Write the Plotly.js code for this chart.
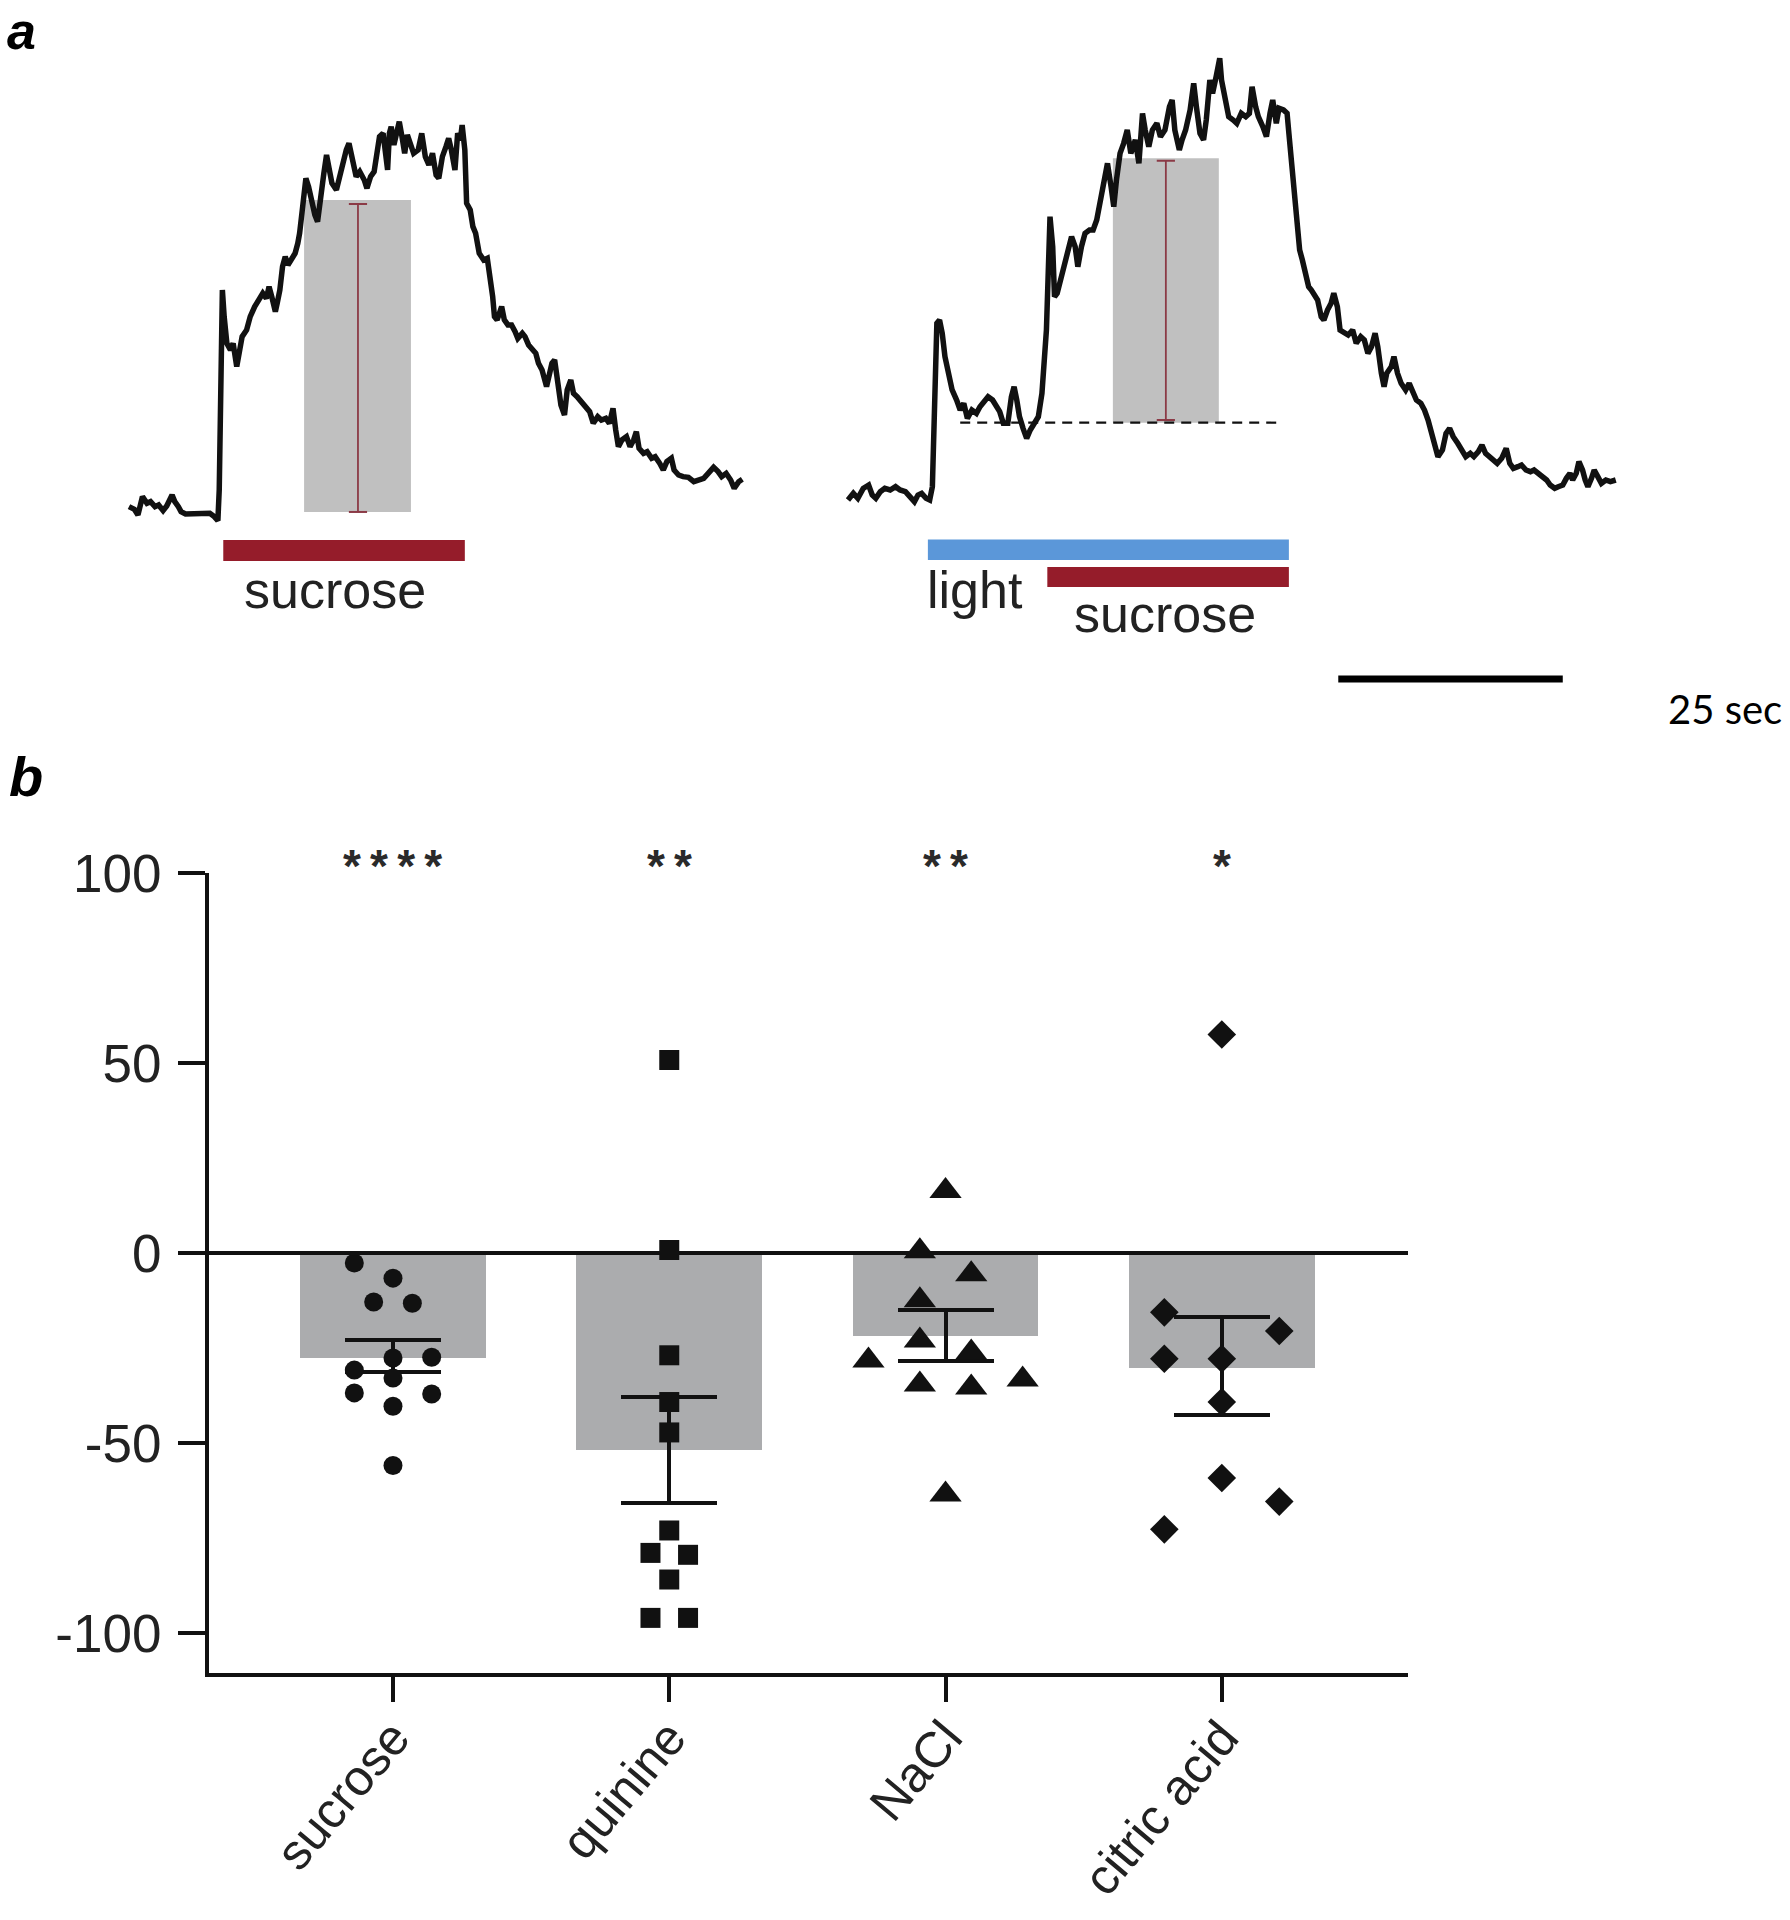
<!DOCTYPE html>
<html><head><meta charset="utf-8">
<script src="https://cdn.plot.ly/plotly-3.0.1.min.js"></script>
<style>html,body{margin:0;padding:0;background:#fff;}#chart{width:1790px;height:1920px;}</style>
</head><body><div id="chart"></div>
<script>
// ================= DATA =================
// Panel a, left: calcium trace, sucrose alone (time in s, signal in % dF/F)
const leftTime = [
 1.0,1.6,2.0,2.5,3.0,3.4,3.9,4.3,4.8,5.2,
 5.8,6.1,6.5,6.8,7.3,8.0,8.6,9.3,10.0,10.5,
 10.9,11.05,11.2,11.4,11.6,11.9,12.3,12.6,13.0,13.3,
 13.6,14.1,14.5,15.0,15.5,15.9,16.3,16.6,16.9,17.3,
 17.5,17.8,18.1,18.4,18.7,19.1,19.5,19.8,20.0,20.3,
 20.7,21.0,21.4,21.7,22.0,22.4,22.7,23.0,23.3,23.6,
 24.1,24.5,24.9,25.2,25.5,25.9,26.3,26.7,27.2,27.5,
 27.9,28.3,28.6,28.9,29.3,29.5,29.8,30.0,30.2,30.5,
 30.8,31.1,31.4,31.7,32.0,32.4,32.7,33.2,33.6,34.0,
 34.4,34.8,35.2,35.5,35.9,36.3,36.6,36.9,37.3,37.6,
 37.9,38.1,38.4,38.6,39.0,39.3,39.6,40.0,40.5,40.9,
 41.2,41.5,41.7,42.0,42.5,42.8,43.2,43.6,44.0,44.3,
 44.8,45.1,45.5,45.9,46.3,46.6,47.0,47.5,47.8,48.1,
 48.4,48.7,49.1,49.5,49.8,50.2,50.5,50.9,51.4,51.8,
 52.3,52.7,53.2,53.6,54.1,54.5,54.9,55.2,55.5,55.9,
 56.4,56.8,57.2,57.5,57.8,58.3,58.7,59.2,59.6,60.1,
 60.5,60.9,61.4,61.7,62.2,62.7,63.3,63.9,64.5,65.0,
 65.5,66.1,66.6,67.0,67.5,68.0,68.4,68.9,69.3];
const leftSignal = [
 2.0,1.2,-0.5,5.0,3.0,3.5,2.0,2.5,0.8,2.2,
 5.5,3.5,2.0,0.5,-0.2,-0.2,0,-0.2,0,-1.0,
 -2.2,7.0,37.0,67.0,59.0,51.0,49.0,51.0,44.0,48.0,
 53.0,55.0,59.0,62.0,64.0,66.0,64.5,68.0,65.0,60.5,
 63.0,67.0,74.0,77.0,74.5,76.0,78.0,81.0,84.0,91.0,
 100.5,98.0,92.5,89.5,87.5,98.0,102.0,107.5,103.0,99.0,
 97.0,102.0,107.0,109.0,111.0,106.0,101.0,102.5,100.0,97.5,
 101.0,102.5,107.0,113.0,114.0,108.0,103.0,114.0,116.0,110.5,
 114.0,117.5,113.0,108.0,113.5,110.0,108.0,109.0,114.0,107.0,
 104.5,108.0,101.5,100.5,107.0,110.0,112.5,109.0,103.0,114.0,
 112.0,116.5,109.0,93.0,91.0,86.0,84.0,78.0,76.0,76.5,
 71.0,65.0,59.0,58.0,62.0,58.0,56.5,56.5,54.5,52.5,
 54.0,53.0,50.5,49.0,48.0,45.0,43.0,38.0,42.0,45.0,
 46.0,39.0,32.5,29.5,37.0,40.0,36.0,35.0,33.5,32.5,
 30.5,27.0,29.0,28.0,28.5,27.0,31.5,25.0,20.0,22.0,
 23.0,20.0,22.0,24.5,19.5,18.0,18.5,16.5,17.0,15.0,
 13.0,15.5,16.5,13.0,11.5,11.0,10.8,9.5,10.2,10.5,
 12.0,13.8,12.5,11.0,12.0,10.0,7.5,9.5,10.2];

// Panel a, right: calcium trace, light then light + sucrose
const rightTime = [
 2.0,2.6,3.1,3.7,4.3,4.7,5.1,5.6,6.1,6.7,
 7.3,7.8,8.4,9.0,9.4,9.8,10.2,10.7,11.1,11.4,
 11.5,11.7,11.9,12.2,12.5,12.8,13.2,13.6,14.1,14.5,
 14.9,15.3,15.8,16.3,16.7,17.2,17.6,18.1,18.5,18.9,
 19.3,19.8,20.2,20.5,20.8,21.1,21.5,21.9,22.3,22.7,
 23.2,23.6,23.9,24.1,24.3,24.5,24.8,25.0,25.3,25.7,
 26.1,26.5,26.9,27.3,27.6,28.0,28.4,28.9,29.3,29.7,
 30.1,30.5,30.9,31.3,31.6,31.9,32.3,32.7,33.1,33.5,
 34.0,34.4,34.8,35.1,35.5,35.9,36.4,36.8,37.3,37.8,
 38.1,38.4,38.9,39.2,39.6,40.1,40.5,40.8,41.2,41.6,
 41.9,42.3,42.6,43.0,43.4,43.6,44.0,44.4,44.9,45.3,
 45.8,46.3,46.7,47.0,47.4,47.7,48.2,48.6,49.0,49.3,
 49.7,50.0,50.5,50.9,51.1,51.4,51.7,52.0,52.3,52.6,
 53.0,53.3,53.6,54.0,54.3,54.7,55.0,55.4,55.8,56.1,
 56.5,56.8,57.3,57.7,58.2,58.6,59.1,59.5,59.9,60.3,
 60.7,61.0,61.4,61.7,62.0,62.5,62.8,63.2,63.6,64.1,
 64.5,64.9,65.3,65.8,66.2,66.6,66.9,67.3,67.7,68.2,
 68.6,69.0,69.4,69.9,70.3,70.8,71.3,71.7,72.2,72.6,
 73.0,73.4,73.9,74.3,74.8,75.3,75.7,76.1,76.6,77.0,
 77.5,78.0,78.4,78.9,79.3,79.8,80.2,80.7,81.1,81.6,
 82.0,82.4,82.7,83.1,83.4,83.8,84.1,84.4,84.8,85.1,
 85.5,85.9,86.4,86.9,87.5];
const rightSignal = [
 0,2,0.5,3.5,4.5,1.5,0.5,2.5,3.5,3.0,
 4.0,3.0,2.5,0.5,-0.5,1.5,2.0,0.5,0,4.0,
 18,38,53,54,50,43,37,33,30,27,
 29,24.5,27,26,28,29.5,31,30,28,26.5,
 23,23,31,34,30,25,21.5,18.5,21,23,
 25,32,41,51,68,85,76,61,62,66,
 70,74,79,76,70,76,80,81,81,84,
 90,95,101,94,88,96,104,107,111,104,
 108,101,116,111,106,111,113,109,111,118,
 120,111,105,108,111,117,125,118,110,108,
 114,126,122,127,132.5,126,120,115,114,113,
 116,115,116,124,118,115,112,109,116,120,
 113,117.5,117,116,110,100,90,82,75,72,
 68,64,63,61,60,55,54,57,59,62,
 58,51,50,49.5,51,47,49,48,44,46,
 50,46,38,34,38,40,43,38,35,33,
 35,32,30,29,27,24,21,17,13,15,
 20,21.5,19,17,15,13,14,13,14.5,16.5,
 14,13,12,11,12.5,15.5,11,9.5,10,10.5,
 9,8.5,9,8,7,6,4.5,3.5,4,4.5,
 6.5,8,6,8,11.5,9,6,4,6.5,9,
 7,5,6,5.5,6];

// Stimulus epochs (s)
const leftSucroseOn = [11.5, 38.4];
const rightLightOn = [10.9, 51.1];
const rightSucroseOn = [24.2, 51.1];
// Response quantification (s, % dF/F)
const leftWindow = [20.5, 32.4];
const leftWindowLevels = [0.4, 94.0];
const leftAmpTime = [26.5, 26.5];
const leftAmpLevels = [0.4, 92.8];
const rightWindow = [31.5, 43.3];
const rightWindowLevels = [23.2, 102.5];
const rightAmpTime = [37.4, 37.4];
const rightAmpLevels = [24.0, 101.8];
const rightBaselineSpan = [14.5, 50.0];
const rightBaselineLevel = [23.2, 23.2];
const scaleBarSeconds = 25;

// Panel b: % change of sucrose-evoked response with light
const categories = ['sucrose', 'quinine', 'NaCl', 'citric acid'];
const meanChange = [-27.7, -51.8, -21.9, -30.2];
const semUp = [4.8, 13.9, 6.8, 13.4];
const semDown = [3.6, 14.0, 6.4, 12.3];
const sucroseVals = [-2.6, -6.6, -12.9, -13.2, -27.6, -27.4, -30.8, -32.9, -36.8, -37.1, -40.3, -55.9];
const sucroseCols = [-2, 0, -1, 1, 0, 2, -2, 0, -2, 2, 0, 0];
const quinineVals = [50.8, 0.8, -26.9, -39.2, -47.2, -73.0, -78.9, -79.4, -85.9, -96.0, -96.0];
const quinineCols = [0, 0, 0, 0, 0, 0, -1, 1, 0, -1, 1];
const naclVals = [16.3, 0.5, -5.6, -12.4, -23.0, -26.2, -28.3, -34.6, -35.4, -33.3, -63.5];
const naclCols = [0, -1, 1, -1, -1, 1, -3, -1, 1, 3, 0];
const citricVals = [57.5, -15.6, -20.5, -27.8, -27.8, -39.2, -59.2, -65.4, -72.7];
const citricCols = [0, -1, 1, -1, 0, 0, 0, 1, -1];
const significance = ['****', '**', '**', '*'];

// ================= LAYOUT / STYLE =================
const W = 1790, H = 1920;
const fx = px => px / W;
const fy = px => 1 - px / H;
const PX_S = 8.98, PX_U = 10 / 3;
const FL = {x0: 120, v0: 513.3, t: [0, 70], v: [-8, 125]};
const FR = {x0: 830, v0: 500, t: [0, 90], v: [-8, 135]};
function dom(F) {
  return {x: [fx(F.x0 + F.t[0] * PX_S), fx(F.x0 + F.t[1] * PX_S)],
          y: [fy(F.v0 - F.v[0] * PX_U), fy(F.v0 - F.v[1] * PX_U)]};
}
const dL = dom(FL), dR = dom(FR);
const SANS = 'Liberation Sans, Arial, Helvetica, sans-serif';
const INK = '#111111';
const TXT = '#222222';
const AMP = '#8b3a46';
const RED = '#951c2a';
const BLUE = '#5b97d9';
const jitterStep = [0.07, 0.068, 0.093, 0.208];

const traces = [];
traces.push({x: leftTime, y: leftSignal, xaxis: 'x2', yaxis: 'y2', type: 'scatter', mode: 'lines',
  line: {color: INK, width: 5.5}, hoverinfo: 'skip'});
traces.push({x: rightTime, y: rightSignal, xaxis: 'x3', yaxis: 'y3', type: 'scatter', mode: 'lines',
  line: {color: INK, width: 5.5}, hoverinfo: 'skip'});
traces.push({x: rightBaselineSpan, y: rightBaselineLevel, xaxis: 'x3', yaxis: 'y3', type: 'scatter', mode: 'lines',
  line: {color: INK, width: 2.2, dash: '10px,7px'}});
[[leftAmpTime, leftAmpLevels, 'x2', 'y2'], [rightAmpTime, rightAmpLevels, 'x3', 'y3']].forEach(a => {
  traces.push({x: a[0], y: a[1], xaxis: a[2], yaxis: a[3], type: 'scatter', mode: 'lines+markers',
    line: {color: AMP, width: 1.8}, marker: {symbol: 'line-ew', size: 13, line: {color: AMP, width: 2}}});
});

// Panel b
const catIdx = categories.map((c, i) => i);
traces.push({x: catIdx, y: meanChange, type: 'bar', width: 0.673, xaxis: 'x', yaxis: 'y',
  marker: {color: '#abacae', line: {width: 0}},
  error_y: {type: 'data', symmetric: false, array: semUp, arrayminus: semDown, color: INK, thickness: 4, width: 48}});
const groups = [[sucroseVals, sucroseCols, 'circle', 19], [quinineVals, quinineCols, 'square', 20],
                [naclVals, naclCols, 'triangle-up', 28], [citricVals, citricCols, 'diamond', 22]];
groups.forEach((g, i) => {
  traces.push({x: g[1].map(c => i + c * jitterStep[i]), y: g[0], type: 'scatter', mode: 'markers',
    xaxis: 'x', yaxis: 'y', marker: {symbol: g[2], size: g[3], color: INK, line: {width: 0}}, cliponaxis: false});
});

const hidden = {visible: false, fixedrange: true};
const layout = {
  width: W, height: H, margin: {l: 0, r: 0, t: 0, b: 0, pad: 0},
  paper_bgcolor: '#ffffff', plot_bgcolor: 'rgba(0,0,0,0)', showlegend: false, hovermode: false,
  bargap: 0,
  xaxis: {domain: [fx(209), fx(1408)], range: [-0.666, 3.674], anchor: 'y',
    tickmode: 'array', tickvals: catIdx, ticktext: categories, tickangle: -50,
    ticks: 'outside', ticklen: 25, tickwidth: 4, tickcolor: INK, ticklabelstandoff: -14,
    showline: true, linewidth: 4, linecolor: INK, showgrid: false, zeroline: false,
    tickfont: {family: SANS, size: 50, color: TXT}},
  yaxis: {domain: [fy(1673), fy(873)], range: [-110.5, 100], anchor: 'x',
    tickmode: 'array', tickvals: [-100, -50, 0, 50, 100], ticktext: ['-100', '-50', '0', '50', '100'],
    ticks: 'outside', ticklen: 27, tickwidth: 4, tickcolor: INK, ticklabelstandoff: 6,
    showline: true, linewidth: 4, linecolor: INK, showgrid: false, zeroline: false,
    tickfont: {family: SANS, size: 53, color: TXT}},
  xaxis2: Object.assign({domain: dL.x, range: FL.t, anchor: 'y2'}, hidden),
  yaxis2: Object.assign({domain: dL.y, range: FL.v, anchor: 'x2'}, hidden),
  xaxis3: Object.assign({domain: dR.x, range: FR.t, anchor: 'y3'}, hidden),
  yaxis3: Object.assign({domain: dR.y, range: FR.v, anchor: 'x3'}, hidden),
  shapes: [
    {type: 'rect', xref: 'x2', yref: 'y2', x0: leftWindow[0], x1: leftWindow[1], y0: leftWindowLevels[0], y1: leftWindowLevels[1],
      fillcolor: '#c0c0c0', line: {width: 0}, layer: 'below'},
    {type: 'rect', xref: 'x3', yref: 'y3', x0: rightWindow[0], x1: rightWindow[1], y0: rightWindowLevels[0], y1: rightWindowLevels[1],
      fillcolor: '#c0c0c0', line: {width: 0}, layer: 'below'},
    {type: 'rect', xref: 'x2', yref: 'paper', x0: leftSucroseOn[0], x1: leftSucroseOn[1], y0: fy(561), y1: fy(540),
      fillcolor: RED, line: {width: 0}},
    {type: 'rect', xref: 'x3', yref: 'paper', x0: rightLightOn[0], x1: rightLightOn[1], y0: fy(560), y1: fy(539.5),
      fillcolor: BLUE, line: {width: 0}},
    {type: 'rect', xref: 'x3', yref: 'paper', x0: rightSucroseOn[0], x1: rightSucroseOn[1], y0: fy(587), y1: fy(567),
      fillcolor: RED, line: {width: 0}},
    {type: 'line', xref: 'x3', yref: 'paper', x0: 56.6, x1: 56.6 + scaleBarSeconds, y0: fy(679), y1: fy(679),
      line: {color: '#000', width: 7}},
    {type: 'line', xref: 'x domain', yref: 'y', x0: 0, x1: 1, y0: 0, y1: 0,
      line: {color: INK, width: 4}, layer: 'above'}
  ],
  annotations: [
    {xref: 'paper', yref: 'paper', x: fx(21), y: fy(31), text: '<b><i>a</i></b>', showarrow: false,
      xanchor: 'center', yanchor: 'middle', font: {family: SANS, size: 52, color: '#000'}},
    {xref: 'paper', yref: 'paper', x: fx(26), y: fy(776), text: '<b><i>b</i></b>', showarrow: false,
      xanchor: 'center', yanchor: 'middle', font: {family: SANS, size: 56, color: '#000'}},
    {xref: 'x2', yref: 'paper', x: 23.9, y: fy(590), text: 'sucrose', showarrow: false,
      xanchor: 'center', yanchor: 'middle', font: {family: SANS, size: 52, color: TXT}},
    {xref: 'x3', yref: 'paper', x: 10.6, y: fy(590), text: 'light', showarrow: false,
      xanchor: 'left', yanchor: 'middle', font: {family: SANS, size: 52, color: TXT}},
    {xref: 'x3', yref: 'paper', x: 37.3, y: fy(614), text: 'sucrose', showarrow: false,
      xanchor: 'center', yanchor: 'middle', font: {family: SANS, size: 52, color: TXT}},
    {xref: 'paper', yref: 'paper', x: fx(1725), y: fy(709), text: '25 sec', showarrow: false,
      xanchor: 'center', yanchor: 'middle', font: {family: 'Lato, Open Sans, sans-serif', size: 40, color: '#000'}}
  ].concat(significance.map((s, i) => ({xref: 'x', yref: 'paper', x: i, y: fy(866),
      text: '<b>' + s.split('').join('\u2009') + '</b>', showarrow: false,
      xanchor: 'center', yanchor: 'middle', font: {family: SANS, size: 46, color: '#2a2a2a'}})))
};

Plotly.newPlot('chart', traces, layout, {displayModeBar: false, staticPlot: true});
</script>
</body></html>
